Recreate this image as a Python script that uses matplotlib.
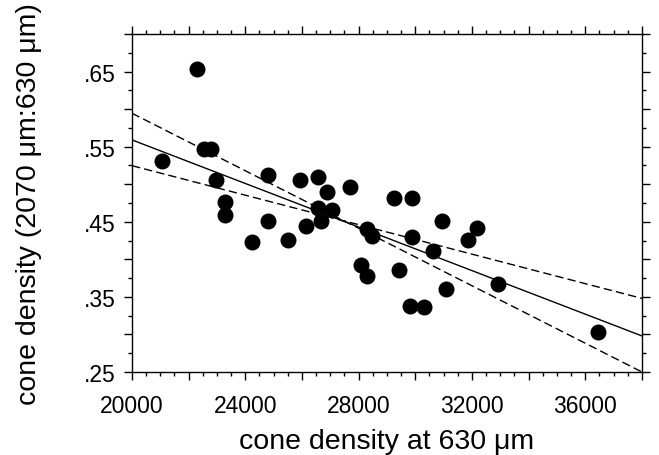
import numpy as np
import matplotlib.pyplot as plt
from matplotlib.ticker import MultipleLocator, FuncFormatter

plt.rcParams['font.family'] = ['Liberation Sans', 'DejaVu Sans']

# cone density at 630 um
dens630 = [21070, 22300, 22550, 22800, 22950, 23300, 23300, 24250, 24810, 24800,
           25490, 25930, 26130, 26560, 26560, 26680, 26880, 27070, 27690, 28070,
           28310, 28460, 28310, 29250, 29430, 29870, 29870, 29810, 30320, 30630,
           30930, 31070, 31870, 32190, 32930, 36430]
# ratio 2070 um : 630 um
ratio = [.531, .653, .547, .547, .506, .477, .459, .4235, .512, .451,
         .4254, .506, .4444, .510, .468, .451, .489, .4653, .496, .3925,
         .440, .4307, .378, .4817, .3862, .4817, .4302, .3383, .337, .4115,
         .451, .360, .4258, .4417, .367, .3037]

# regression line and confidence limits (end points)
line_x = [20000, 38000]
fit_y = [.559, .298]
upper_y = [.5945, .250]
lower_y = [.5247, .348]

fig = plt.figure(figsize=(6.59, 4.56), dpi=100)
ax = fig.add_axes([0.2003, 0.182, 0.7739, 0.7412])

ax.plot(line_x, fit_y, color='black', lw=1.0)
ax.plot(line_x, upper_y, color='black', lw=1.0, dashes=(6, 3))
ax.plot(line_x, lower_y, color='black', lw=1.0, dashes=(6, 3))
ax.plot(dens630, ratio, 'o', color='black', markersize=10.5, clip_on=False)

ax.set_xlim(20000, 38000)
ax.set_ylim(0.25, 0.70)

ax.xaxis.set_major_locator(MultipleLocator(2000))
ax.xaxis.set_minor_locator(MultipleLocator(500))
ax.yaxis.set_major_locator(MultipleLocator(0.05))
ax.yaxis.set_minor_locator(MultipleLocator(0.025))

def xfmt(v, pos):
    if int(round(v)) % 4000 == 0:
        return '%d' % int(round(v))
    return ''

def yfmt(v, pos):
    k = round((v - 0.25) / 0.05)
    if k % 2 == 0:
        return ('%.2f' % v).lstrip('0')
    return ''

ax.xaxis.set_major_formatter(FuncFormatter(xfmt))
ax.yaxis.set_major_formatter(FuncFormatter(yfmt))

ax.tick_params(which='both', direction='out', top=True, right=True,
               width=1.0, labelsize=16.5)
ax.tick_params(axis='x', which='major', length=6, pad=10)
ax.tick_params(axis='y', which='major', length=6, pad=6)
ax.tick_params(which='minor', length=3)
for s in ax.spines.values():
    s.set_linewidth(1.0)

ax.set_xlabel('cone density at 630 \u03bcm', fontsize=20.5, labelpad=8)
ax.set_ylabel('cone density (2070 \u03bcm:630 \u03bcm)', fontsize=20.5, labelpad=30)

plt.savefig('out.png', dpi=100)
